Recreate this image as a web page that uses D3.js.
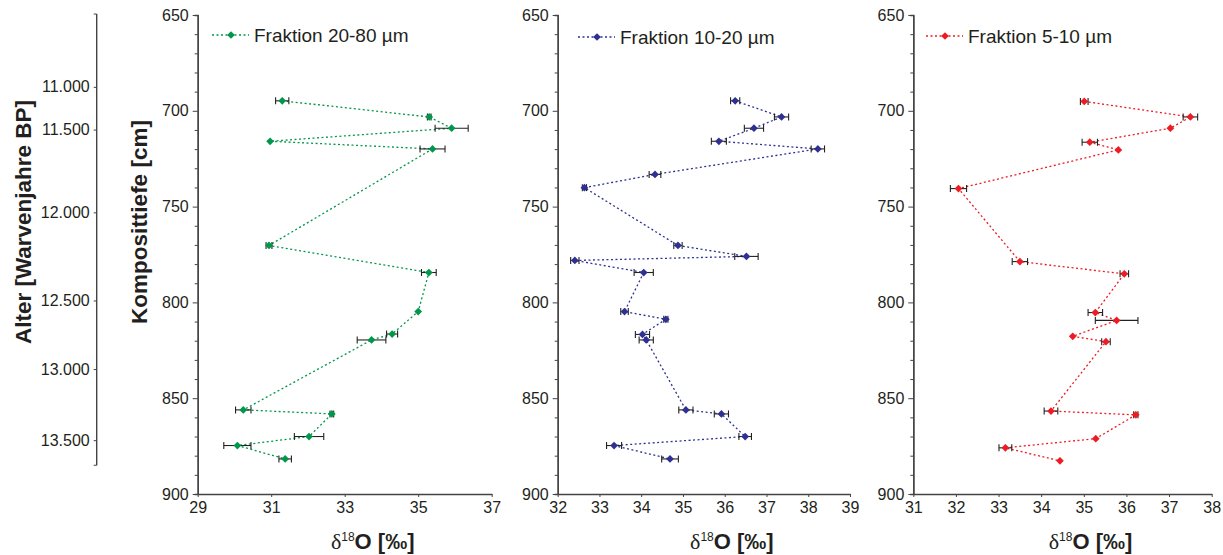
<!DOCTYPE html>
<html>
<head>
<meta charset="utf-8">
<script src="https://cdn.jsdelivr.net/npm/d3@7"></script>
<style>
  body { margin: 0; background: #fff; }
  text { font-family: "Liberation Sans", Arial, sans-serif; fill: #231f20; }
</style>
</head>
<body>
<svg id="chart" width="1223" height="555"></svg>
<script>
// age-depth model (left axis)
const ageTicks = [11000, 11500, 12000, 12500, 13000, 13500];
const ageDepths = [687.5, 709.8, 753.0, 799.0, 834.8, 871.9];

const depthTicks = [650, 700, 750, 800, 850, 900];

// Fraktion 20-80 µm
const depth20_80 = [694.8, 703.2, 709.1, 715.9, 719.9, 770.3, 784.4, 804.8, 816.5, 819.6, 856.1, 858.2, 870.0, 874.7, 881.7];
const d18O20_80 = [31.30, 35.30, 35.91, 30.97, 35.39, 30.94, 35.29, 35.00, 34.29, 33.73, 30.24, 32.65, 32.03, 30.08, 31.38];
const err20_80 = [0.18, 0.05, 0.45, 0, 0.34, 0.08, 0.2, 0, 0.15, 0.39, 0.21, 0.05, 0.40, 0.37, 0.17];
const xTicks20_80 = [29, 31, 33, 35, 37];

// Fraktion 10-20 µm
const depth10_20 = [694.8, 703.2, 709.1, 715.9, 719.9, 733.2, 740.1, 770.3, 776.0, 778.1, 784.4, 804.8, 808.8, 816.7, 819.6, 856.1, 858.2, 870.0, 874.7, 881.7];
const d18O10_20 = [36.25, 37.36, 36.70, 35.86, 38.23, 34.33, 32.64, 34.88, 36.52, 32.41, 34.06, 33.60, 34.59, 34.03, 34.12, 35.07, 35.92, 36.49, 33.35, 34.69];
const err10_20 = [0.11, 0.17, 0.23, 0.18, 0.16, 0.14, 0.05, 0.1, 0.28, 0.1, 0.23, 0.09, 0.05, 0.17, 0.17, 0.17, 0.17, 0.15, 0.18, 0.2];
const xTicks10_20 = [32, 33, 34, 35, 36, 37, 38, 39];

// Fraktion 5-10 µm
const depth5_10 = [695.1, 703.2, 709.1, 716.4, 720.4, 740.6, 778.7, 785.1, 805.3, 809.4, 817.7, 820.5, 856.7, 858.7, 871.1, 875.9, 882.7];
const d18O5_10 = [35.01, 37.50, 37.03, 35.14, 35.81, 32.06, 33.50, 35.95, 35.27, 35.77, 34.74, 35.52, 34.23, 36.22, 35.28, 33.16, 34.44];
const err5_10 = [0.09, 0.17, 0, 0.18, 0, 0.19, 0.18, 0.1, 0.17, 0.5, 0, 0.1, 0.16, 0.05, 0, 0.15, 0];
const xTicks5_10 = [31, 32, 33, 34, 35, 36, 37, 38];

const svg = d3.select("#chart");
const axisColor = "#444";

const y = d3.scaleLinear().domain([650, 900]).range([15, 494]);

const panels = [
  { label: "Fraktion 20-80 µm", color: "#00974a", depth: depth20_80, val: d18O20_80, err: err20_80,
    ticks: xTicks20_80, range: [197.7, 491.7], legendX: 212, legendY: 35 },
  { label: "Fraktion 10-20 µm", color: "#2e3192", depth: depth10_20, val: d18O10_20, err: err10_20,
    ticks: xTicks10_20, range: [557.7, 850], legendX: 578, legendY: 37 },
  { label: "Fraktion 5-10 µm", color: "#ed1c24", depth: depth5_10, val: d18O5_10, err: err5_10,
    ticks: xTicks5_10, range: [913.3, 1211.7], legendX: 926, legendY: 36 },
];

function styleAxis(g) {
  g.select(".domain").attr("stroke", axisColor).attr("stroke-width", 1.4);
  g.selectAll(".tick line").attr("stroke", axisColor).attr("stroke-width", 1);
  g.selectAll(".tick text").attr("font-size", 16).attr("fill", "#231f20")
    .attr("font-family", '"Liberation Sans", Arial, sans-serif');
}

const minorDepths = d3.range(650, 901, 10).filter((d) => d % 50 !== 0);
const marker = d3.symbol().type(d3.symbolSquare).size(30);

panels.forEach((p) => {
  const x = d3.scaleLinear().domain(d3.extent(p.ticks)).range(p.range);
  const x0 = p.range[0];

  // minor depth ticks
  svg.append("g")
    .attr("transform", `translate(${x0},0)`)
    .call(d3.axisLeft(y).tickValues(minorDepths).tickSize(3).tickFormat(""))
    .call(styleAxis);

  svg.append("g")
    .attr("transform", `translate(${x0},0)`)
    .call(d3.axisLeft(y).tickValues(depthTicks).tickSize(5).tickPadding(4).tickSizeOuter(0))
    .call(styleAxis);

  svg.append("g")
    .attr("transform", `translate(0,${y(900)})`)
    .call(d3.axisBottom(x).tickValues(p.ticks).tickFormat(d3.format("d"))
      .tickSize(3).tickPadding(5).tickSizeOuter(0))
    .call(styleAxis);

  // x title
  const t = svg.append("text")
    .attr("x", (p.range[0] + p.range[1]) / 2 + 28)
    .attr("y", 549)
    .attr("text-anchor", "middle");
  t.append("tspan").text("δ").attr("font-family", '"Liberation Serif", serif').attr("font-size", 22);
  t.append("tspan").text("18").attr("font-size", 12).attr("dy", -8);
  t.append("tspan").text("O [‰]").attr("font-size", 22).attr("font-weight", "bold").attr("dy", 8);

  const pts = p.depth.map((d, i) => ({ depth: d, v: p.val[i], e: p.err[i] }));

  svg.append("path")
    .datum(pts)
    .attr("fill", "none")
    .attr("stroke", p.color)
    .attr("stroke-width", 1.3)
    .attr("stroke-dasharray", "2,2.5")
    .attr("d", d3.line().x((d) => x(d.v)).y((d) => y(d.depth)));

  const eb = svg.append("g").attr("stroke", "#222").attr("stroke-width", 1.1)
    .selectAll("g").data(pts.filter((d) => d.e > 0)).join("g");
  eb.append("line")
    .attr("x1", (d) => x(d.v - d.e)).attr("x2", (d) => x(d.v + d.e))
    .attr("y1", (d) => y(d.depth)).attr("y2", (d) => y(d.depth));
  [-1, 1].forEach((s) => {
    eb.append("line")
      .attr("x1", (d) => x(d.v + s * d.e)).attr("x2", (d) => x(d.v + s * d.e))
      .attr("y1", (d) => y(d.depth) - 3.5).attr("y2", (d) => y(d.depth) + 3.5);
  });

  svg.append("g").selectAll("path").data(pts).join("path")
    .attr("d", marker)
    .attr("fill", p.color)
    .attr("transform", (d) => `translate(${x(d.v)},${y(d.depth)}) rotate(45)`);

  // legend
  svg.append("line")
    .attr("x1", p.legendX).attr("x2", p.legendX + 37)
    .attr("y1", p.legendY).attr("y2", p.legendY)
    .attr("stroke", p.color).attr("stroke-width", 1.3).attr("stroke-dasharray", "2,2.5");
  svg.append("path")
    .attr("d", marker).attr("fill", p.color)
    .attr("transform", `translate(${p.legendX + 19},${p.legendY}) rotate(45)`);
  svg.append("text")
    .attr("x", p.legendX + 42).attr("y", p.legendY + 6.5)
    .attr("font-size", 19)
    .text(p.label);
});

// depth axis title
svg.append("text")
  .attr("transform", "translate(147,222) rotate(-90)")
  .attr("text-anchor", "middle")
  .attr("font-size", 22.5).attr("font-weight", "bold")
  .text("Komposittiefe [cm]");

// age axis
const ageFmt = d3.formatLocale({ decimal: ",", thousands: ".", grouping: [3], currency: ["", ""] }).format(",");
const ageY = d3.scaleLinear().domain(ageTicks).range(ageDepths.map(y));
const ageG = svg.append("g").attr("transform", "translate(96.7,0)");
ageG.append("line")
  .attr("y1", y(649.5)).attr("y2", y(885))
  .attr("stroke", axisColor).attr("stroke-width", 1.4);
[649.5, 885].forEach((d) => {
  ageG.append("line").attr("x1", -3).attr("x2", 0)
    .attr("y1", y(d)).attr("y2", y(d)).attr("stroke", axisColor);
});
ageG.call(d3.axisLeft(ageY).tickValues(ageTicks).tickSize(3).tickPadding(4).tickFormat(ageFmt))
  .call(styleAxis);
ageG.select(".domain").remove();

svg.append("text")
  .attr("transform", "translate(31,222) rotate(-90)")
  .attr("text-anchor", "middle")
  .attr("font-size", 22.5).attr("font-weight", "bold")
  .text("Alter [Warvenjahre BP]");
</script>
</body>
</html>
